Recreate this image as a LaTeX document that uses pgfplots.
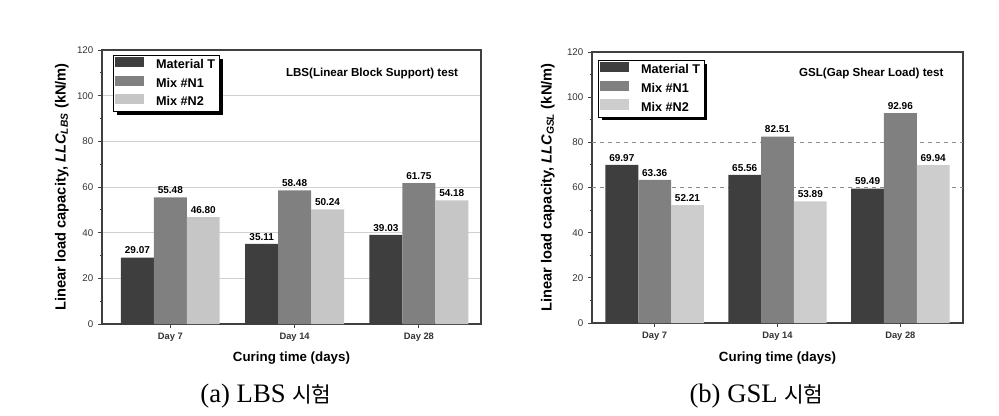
\documentclass[border=0pt]{standalone}
\usepackage{fontspec}
\setmainfont{Liberation Sans}
\newfontfamily\serifcap{Liberation Serif}
\newfontfamily\cjk{Noto Sans CJK KR}
\usepackage{pgfplots}
\pgfplotsset{compat=1.18}
\usetikzlibrary{shadows}
\makeatletter
\tikzset{no preactions/.code={\let\tikz@preactions\pgfutil@empty\let\tikz@postactions\pgfutil@empty}}
\makeatother
\definecolor{cT}{HTML}{3E3E3E}
\definecolor{cA}{HTML}{808080}
\definecolor{cB}{HTML}{C6C6C6}
\definecolor{cB2}{HTML}{CDCDCD}
\pgfplotsset{
  panel/.style={
    anchor=south west, scale only axis,
    ybar=0pt, bar width=0.265,
    ymin=0, ymax=120, ytick={0,20,...,120}, minor y tick num=1,
    xtick={0,1,2}, xticklabels={Day 7, Day 14, Day 28},
    xtick pos=bottom, ytick pos=left, tick align=outside,
    major tick length=3pt, minor tick length=1.8pt,
    /pgf/number format/assume math mode=true,
    tick label style={font=\fontsize{7.3}{8}\selectfont, color=black!80},
    xticklabel style={font=\bfseries\fontsize{7}{8}\selectfont},
    axis line style={black!75, line width=0.9pt},
    tick style={black!75, line width=0.7pt},
    xlabel={Curing time (days)},
    xlabel style={font=\bfseries\fontsize{10}{12}\selectfont, anchor=center},
    ylabel style={font=\bfseries\fontsize{11}{13}\selectfont, anchor=center, rotate=0},
    legend cell align=left,
    legend style={draw=black, line width=0.6pt, fill=white, anchor=north west,
      font=\bfseries\fontsize{9.5}{11}\selectfont,
      drop shadow={fill=black, opacity=1, shadow xshift=2.5pt, shadow yshift=-2.5pt},
      inner sep=1pt, row sep=1.6pt,
      /tikz/every odd column/.append style={column sep=7pt}},
    legend image code/.code={\fill[no preactions, ##1] (0pt,-1.6pt) rectangle (22pt,6pt);},
    nodes near coords={\pgfmathprintnumber[fixed,fixed zerofill,precision=2]{\pgfplotspointmeta}},
    nodes near coords style={font=\bfseries\fontsize{7.5}{8}\selectfont, black, inner sep=2.5pt},
  },
}
\begin{document}
\begin{tikzpicture}
\useasboundingbox (0,0) rectangle (749.25pt,311.25pt);
% (a) LBS
\begin{axis}[panel, at={(76.5pt,68.25pt)}, width=284.25pt, height=205.5pt,
  xmin=-0.55, xmax=2.5,
  ymajorgrids,
  grid style={black!18, line width=0.5pt},
  xlabel style={at={(axis description cs:0.5,-0.125)}},
  ylabel style={at={(axis description cs:-0.106,0.5)}},
  ylabel={Linear load capacity, \textit{LLC}\textsubscript{\textit{LBS}} (kN/m)},
  legend style={at={(axis description cs:0.029,0.982)}},
]
\addplot[draw=none, fill=cT] coordinates {(0,29.07) (1,35.11) (2,39.03)};
\addplot[draw=none, fill=cA] coordinates {(0,55.48) (1,58.48) (2,61.75)};
\addplot[draw=none, fill=cB] coordinates {(0,46.80) (1,50.24) (2,54.18)};
\legend{Material T, Mix \#N1, Mix \#N2}
\node[anchor=east, font=\bfseries\fontsize{8.7}{10}\selectfont] at (rel axis cs:0.952,0.916) {LBS(Linear Block Support) test};
\end{axis}
% (b) GSL
\begin{axis}[panel, at={(444pt,69pt)}, width=278.25pt, height=203.25pt,
  xmin=-0.51, xmax=2.51, bar width=0.267,
  extra y ticks={60,80}, extra y tick labels={},
  extra y tick style={ymajorgrids=true, major grid style={black!45, dashed, line width=0.5pt}, major tick length=0pt},
  xlabel style={at={(axis description cs:0.5,-0.13)}},
  ylabel style={at={(axis description cs:-0.119,0.5)}},
  ylabel={Linear load capacity, \textit{LLC}\textsubscript{\textit{GSL}} (kN/m)},
  legend style={at={(axis description cs:0.016,0.97)}},
]
\addplot[draw=none, fill=cT] coordinates {(0,69.97) (1,65.56) (2,59.49)};
\addplot[draw=none, fill=cA] coordinates {(0,63.36) (1,82.51) (2,92.96)};
\addplot[draw=none, fill=cB2] coordinates {(0,52.21) (1,53.89) (2,69.94)};
\legend{Material T, Mix \#N1, Mix \#N2}
\node[anchor=east, font=\bfseries\fontsize{8.7}{10}\selectfont] at (rel axis cs:0.96,0.922) {GSL(Gap Shear Load) test};
\end{axis}
\node[anchor=base, inner sep=0pt] at (199.5pt,9.75pt) {\serifcap\fontsize{20}{22}\selectfont (a) LBS {\cjk\fontsize{16}{18}\selectfont 시험}};
\node[anchor=base, inner sep=0pt] at (567.4pt,9.75pt) {\serifcap\fontsize{20}{22}\selectfont (b) GSL {\cjk\fontsize{16}{18}\selectfont 시험}};
\end{tikzpicture}
\end{document}
